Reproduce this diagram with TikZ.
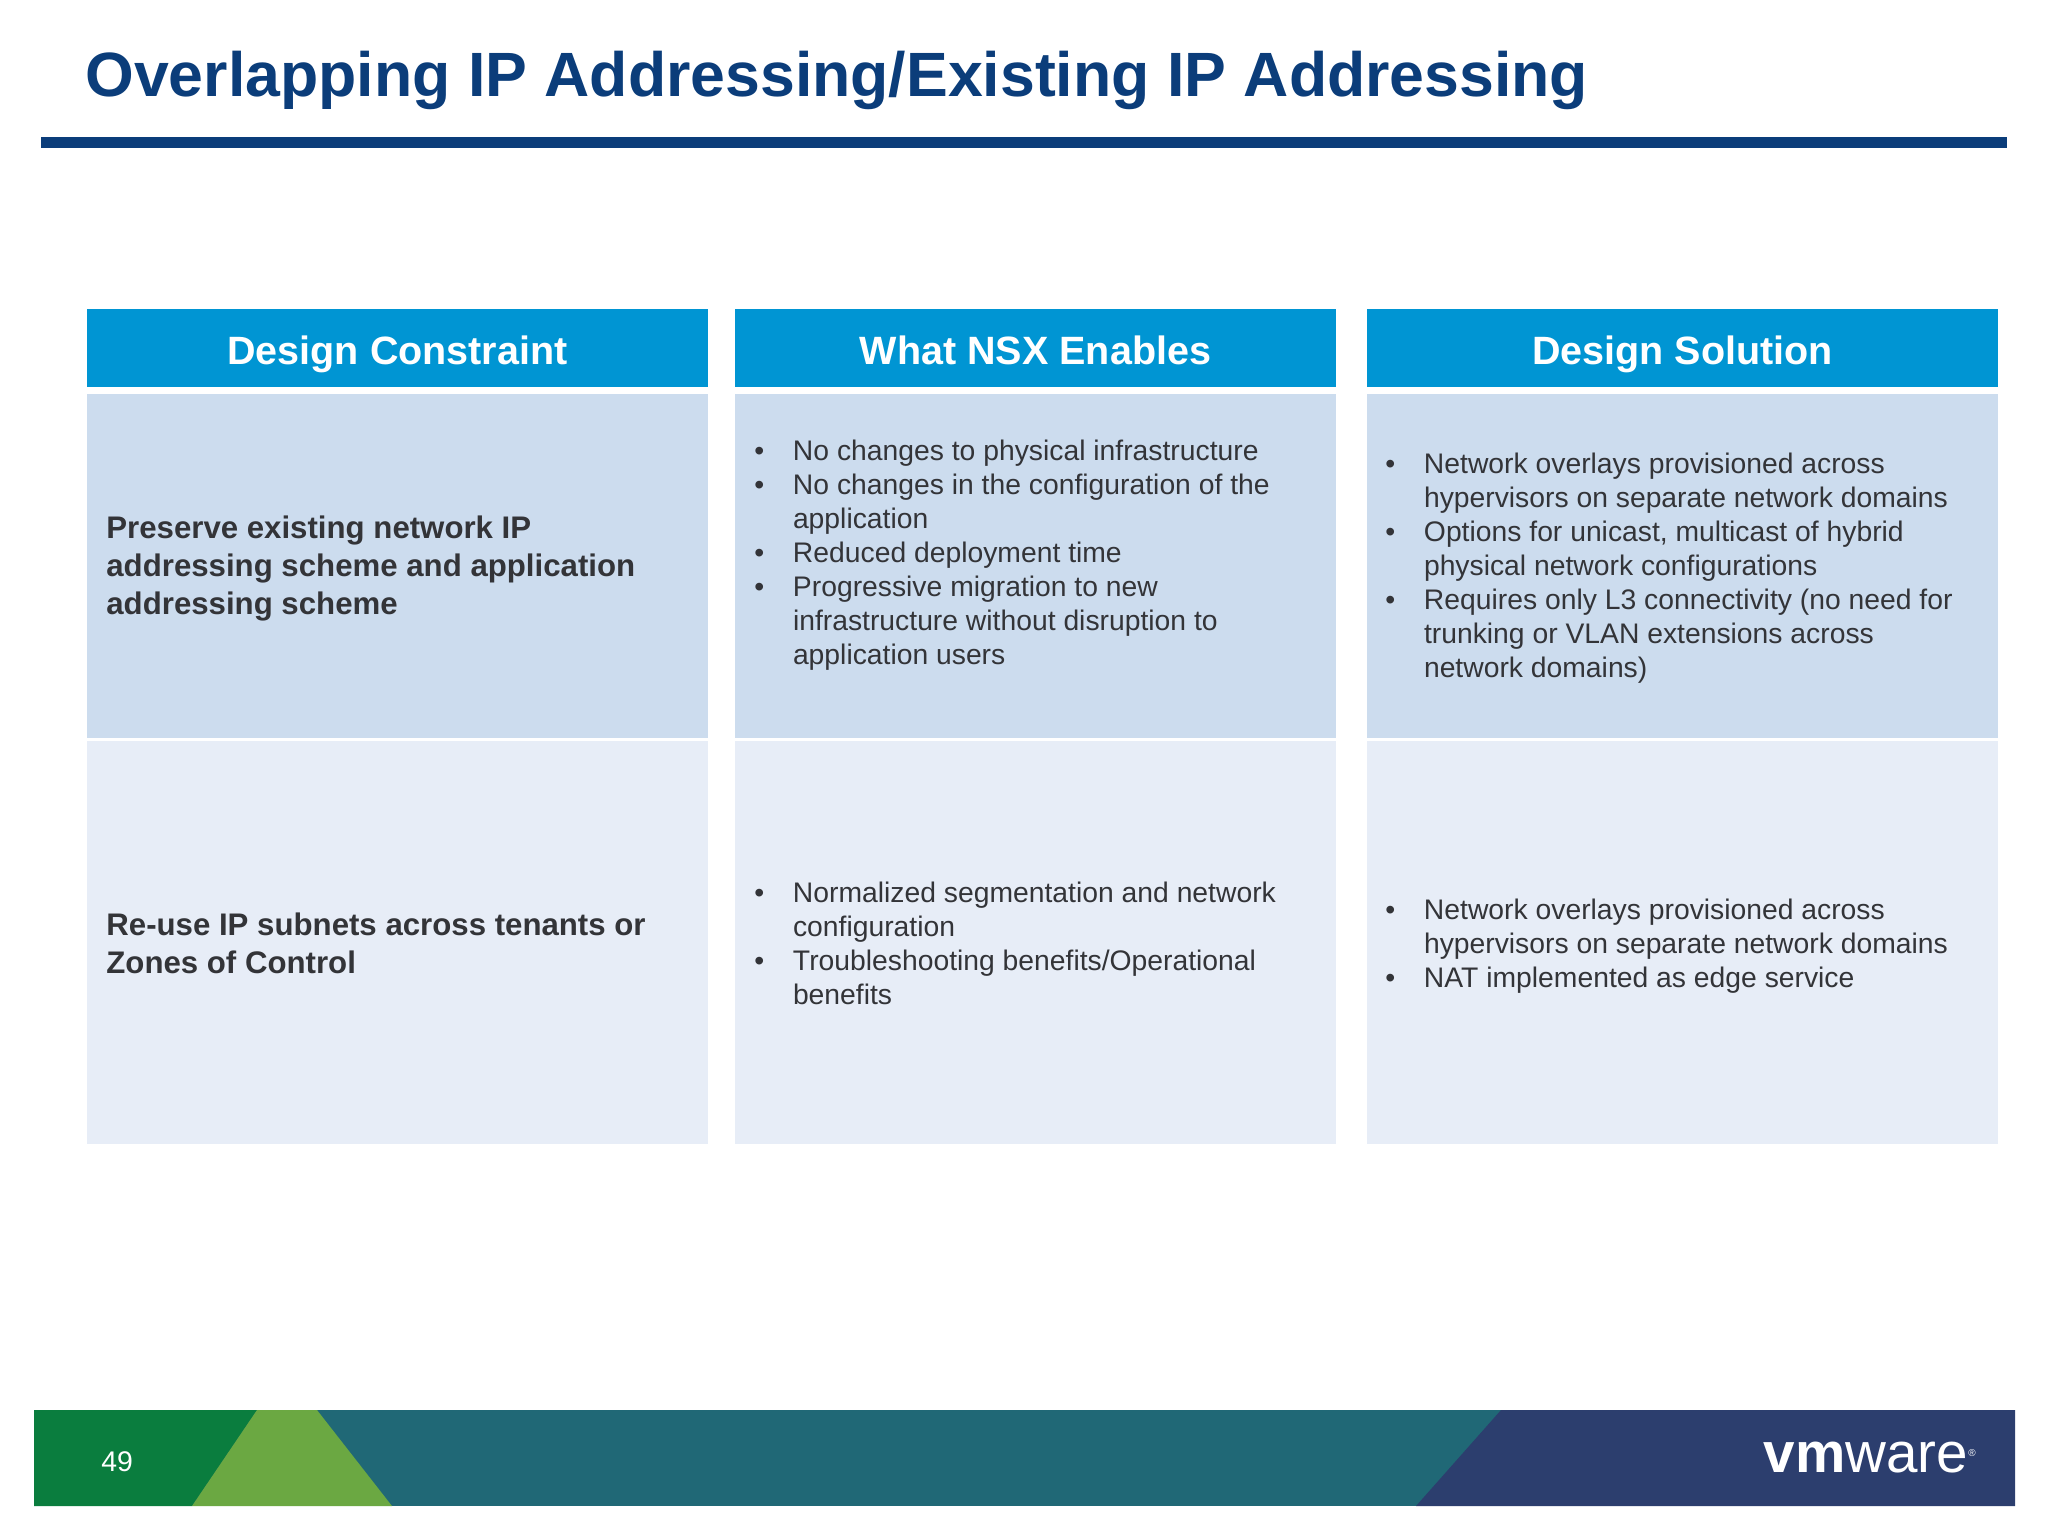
\documentclass[tikz,border=0pt]{standalone}
\usepackage{fontspec}
\setmainfont{Liberation Sans}
\usetikzlibrary{positioning,calc}
\definecolor{titleblue}{HTML}{0B3D7A}
\definecolor{headblue}{HTML}{0095D3}
\definecolor{rowdark}{HTML}{CCDCEE}
\definecolor{rowlight}{HTML}{E7EDF7}
\definecolor{bodygray}{HTML}{333438}
\definecolor{footgreen}{HTML}{0A7D3E}
\definecolor{footlime}{HTML}{6BA842}
\definecolor{footteal}{HTML}{206876}
\definecolor{footnavy}{HTML}{2C3E6E}
\newcommand{\bl}{\makebox[19.3pt][l]{\textbullet}}
\newcommand{\ct}{\hspace*{19.3pt}}
\tikzset{
cell/.style={anchor=north west,inner sep=0pt,outer sep=0pt},
headbox/.style={cell,fill=headblue,text=white,minimum height=39pt,text height=19.6pt,text depth=3pt,font=\fontsize{19.75}{22}\selectfont\bfseries},
bodybold/.style={anchor=west,inner sep=0pt,align=left,text=bodygray,font=\fontsize{15.6}{19}\selectfont\bfseries},
bodytext/.style={anchor=west,inner sep=0pt,align=left,text=bodygray,font=\fontsize{14.15}{17}\selectfont}
}
\begin{document}
\begin{tikzpicture}[x=0.5pt,y=-0.5pt]
\useasboundingbox (0,0) rectangle (2048,1536);
% title
\node[anchor=base west,inner sep=0pt,text=titleblue,font=\fontsize{31.3}{36}\selectfont\bfseries] (title) at (85,96.5) {Overlapping IP Addressing/Existing IP Addressing};
\fill[titleblue] (41,137) rectangle (2007,148);
% headers
\node[headbox,minimum width=310.5pt] (h1) at (87,309) {Design Constraint};
\node[headbox,minimum width=300.5pt] (h2) at (735,309) {What NSX Enables};
\node[headbox,minimum width=315.5pt] (h3) at (1367,309) {Design Solution};
% first row
\node[cell,fill=rowdark,minimum width=310.5pt,minimum height=172pt] (a1) at (87,394) {};
\node[cell,fill=rowdark,minimum width=300.5pt,minimum height=172pt] (a2) at (735,394) {};
\node[cell,fill=rowdark,minimum width=315.5pt,minimum height=172pt] (a3) at (1367,394) {};
% second row
\node[cell,fill=rowlight,minimum width=310.5pt,minimum height=201.5pt] (b1) at (87,741) {};
\node[cell,fill=rowlight,minimum width=300.5pt,minimum height=201.5pt] (b2) at (735,741) {};
\node[cell,fill=rowlight,minimum width=315.5pt,minimum height=201.5pt] (b3) at (1367,741) {};
% texts
\node[bodybold] (ta1) at (106,568.5) {Preserve existing network IP\\addressing scheme and application\\addressing scheme};
\node[bodytext] (ta2) at (754,555) {\bl No changes to physical infrastructure\\\bl No changes in the configuration of the\\\ct application\\\bl Reduced deployment time\\\bl Progressive migration to new\\\ct infrastructure without disruption to\\\ct application users};
\node[bodytext] (ta3) at (1385,568) {\bl Network overlays provisioned across\\\ct hypervisors on separate network domains\\\bl Options for unicast, multicast of hybrid\\\ct physical network configurations\\\bl Requires only L3 connectivity (no need for\\\ct trunking or VLAN extensions across\\\ct network domains)};
\node[bodybold] (tb1) at (106,943.5) {Re-use IP subnets across tenants or\\Zones of Control};
\node[bodytext] (tb2) at (754,943) {\bl Normalized segmentation and network\\\ct configuration\\\bl Troubleshooting benefits/Operational\\\ct benefits};
\node[bodytext] (tb3) at (1385,946) {\bl Network overlays provisioned across\\\ct hypervisors on separate network domains\\\bl NAT implemented as edge service};
% footer
\fill[footteal] (34,1410) rectangle (2015,1506);
\fill[footgreen] (34,1410) -- (257,1410) -- (192,1506) -- (34,1506) -- cycle;
\fill[footlime] (257,1410) -- (317,1410) -- (392,1506) -- (192,1506) -- cycle;
\fill[footnavy] (1501,1410) -- (2015,1410) -- (2015,1506) -- (1416,1506) -- cycle;
\node[anchor=base west,inner sep=0pt,text=white,font=\fontsize{14.2}{17}\selectfont] (page) at (101,1471) {49};
\node[anchor=base east,inner sep=0pt,text=white,font=\fontsize{28.3}{30}\selectfont] (logo) at (1976,1472) {{\bfseries vm}ware\raisebox{8pt}{\fontsize{5}{6}\selectfont®}};
\end{tikzpicture}
\end{document}
